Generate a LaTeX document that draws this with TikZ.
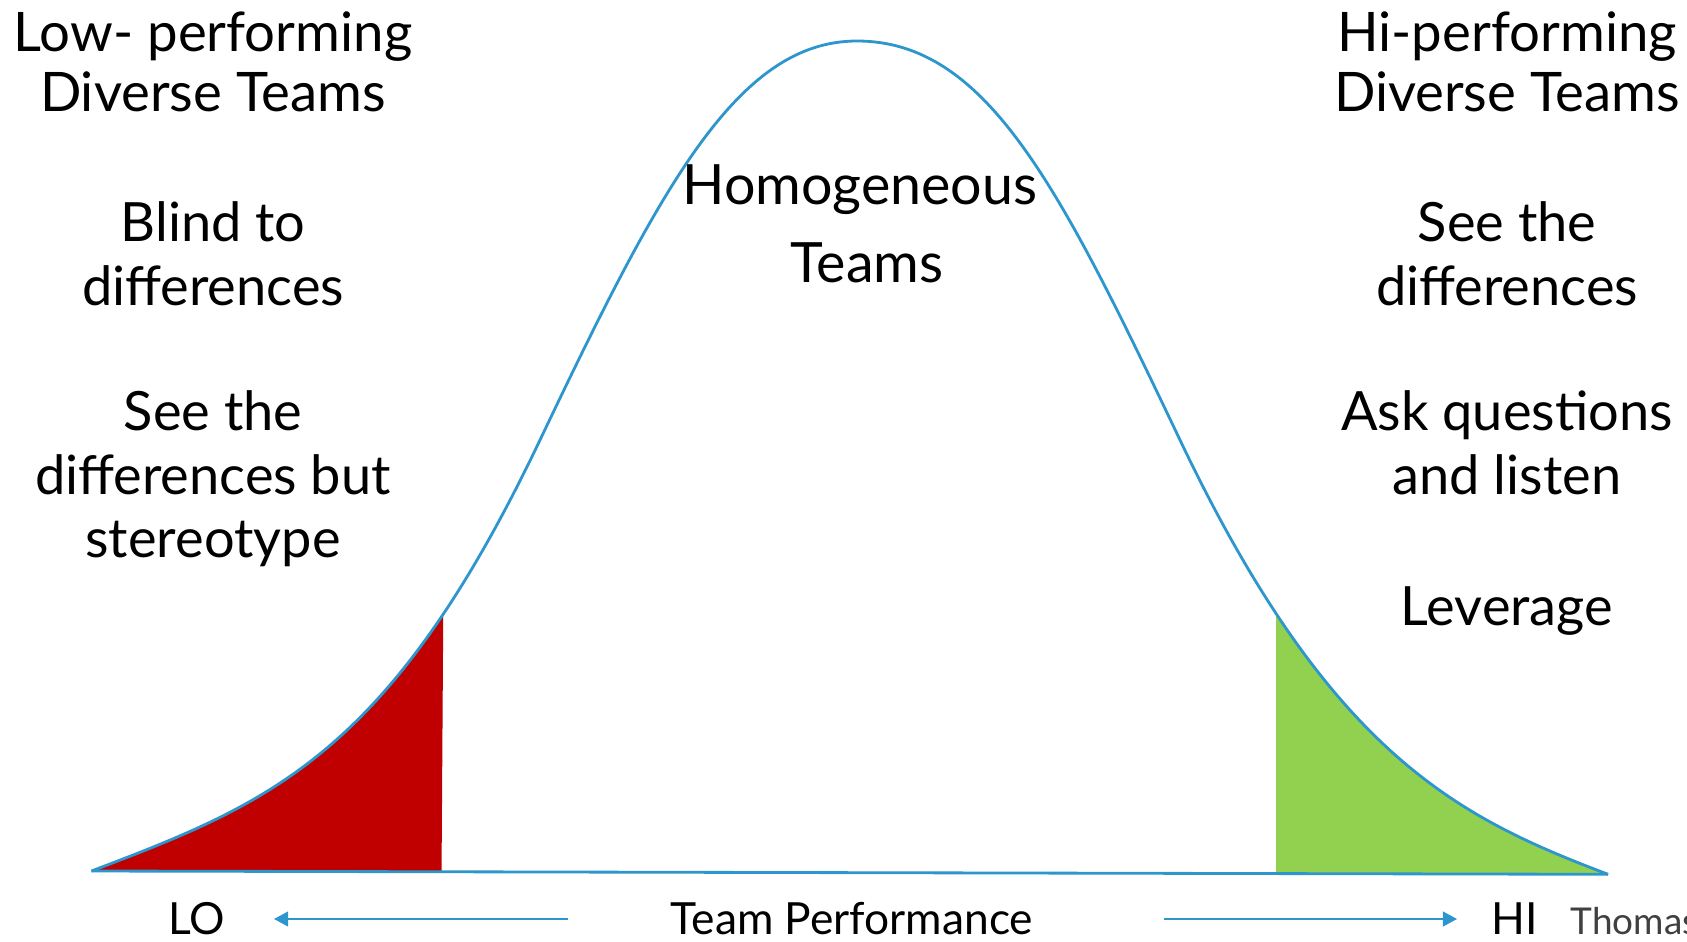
\documentclass[tikz,border=0pt]{standalone}
\usepackage{fontspec}
\setmainfont{Lato}
\usetikzlibrary{arrows.meta}
\definecolor{curveblue}{RGB}{45,150,205}
\definecolor{lowred}{RGB}{192,0,0}
\definecolor{higreen}{RGB}{146,208,80}
\definecolor{notegray}{RGB}{64,64,64}
\newcommand{\lines}[1]{\begin{tabular}[t]{@{}c@{}}#1\end{tabular}}
\begin{document}
\begin{tikzpicture}[x=0.01cm,y=-0.01cm,
  curve/.style={draw=curveblue, line width=0.8pt},
  axisarrow/.style={draw=curveblue, line width=0.5pt, -{Triangle[length=4pt,width=4.2pt]}},
  title/.style={anchor=base, inner sep=0pt, font=\fontsize{15.5}{17.2}\selectfont},
  body/.style={anchor=base, inner sep=0pt, font=\fontsize{15.4}{18}\selectfont},
  axislabel/.style={anchor=base, inner sep=0pt, font=\fontsize{12.6}{15}\selectfont},
  note/.style={anchor=base west, inner sep=0pt, text=notegray, font=\fontsize{10.5}{12}\selectfont}]
\useasboundingbox (0,0) rectangle (1687,942);
\clip (0,0) rectangle (1687,942);

% bell curve of team performance: tail, rise, peak, fall, tail
\coordinate (tailL) at (91.5,871);
\coordinate (bendL) at (540,440);
\coordinate (peak) at (857,41);
\coordinate (bendR) at (1180,440);
\coordinate (tailR) at (1608,874.3);
\path[save path=\bell] (tailL)
  .. controls (271.5,802.6) and (390,755) .. (bendL)
  .. controls (660,188) and (737,41) .. (peak)
  .. controls (987,41) and (1060,188) .. (bendR)
  .. controls (1330,755) and (1458,817.3) .. (tailR);

% shaded tails under the curve
\begin{scope}
  \clip[use path=\bell];
  \fill[lowred] (80,500) -- (444,500) -- (441.5,880) -- (80,880) -- cycle;
  \fill[higreen] (1275.7,500) -- (1620,500) -- (1620,880) -- (1275.7,880) -- cycle;
\end{scope}

\draw[curve, use path=\bell];
\draw[curve] (tailL) -- (tailR);

% side captions
\node[title] (lowtitle) at (213,51) {\lines{Low- performing\\Diverse Teams}};
\node[body] (blind) at (213,241.7) {\lines{Blind to\\differences}};
\node[body] (stereo) at (213,430.7) {\lines{See the\\differences but\\stereotype}};

\node[title] (hititle) at (1507,51) {\lines{Hi-performing\\Diverse Teams}};
\node[body] (seediff) at (1507,241.7) {\lines{See the\\differences}};
\node[body] (ask) at (1507,430.7) {\lines{Ask questions\\and listen}};
\node[body] (leverage) at (1507,625) {Leverage};

\node[anchor=base, inner sep=0pt, font=\fontsize{15.8}{22.3}\selectfont] (homog) at (860,204) {\lines{Homogeneous\\\hspace*{4pt}Teams}};

% performance axis
\node[axislabel] (lo) at (197,934) {LO};
\node[axislabel] (perf) at (852,934) {Team Performance};
\node[axislabel] (hi) at (1515,934) {HI};
\node[note] (author) at (1570,934) {Thomas};

\coordinate (leftstart) at (568,919);
\coordinate (lefttip) at (274,919);
\coordinate (rightstart) at (1164,919);
\coordinate (righttip) at (1457,919);
\draw[axisarrow] (leftstart) -- (lefttip);
\draw[axisarrow] (rightstart) -- (righttip);
\end{tikzpicture}
\end{document}
